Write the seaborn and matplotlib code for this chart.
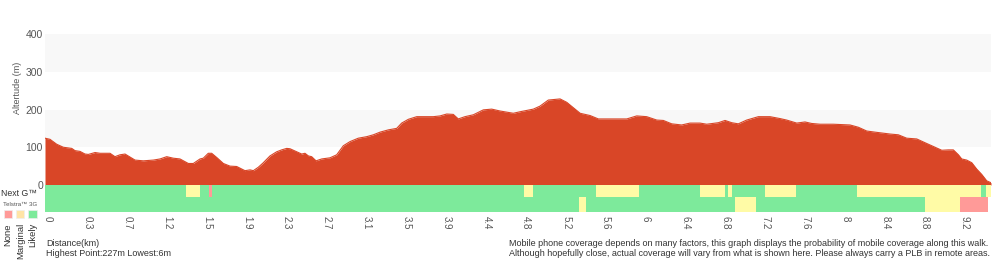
import numpy as np
import pandas as pd
import matplotlib
matplotlib.use("Agg")
import matplotlib.pyplot as plt
import seaborn as sns

# ---------------- data ----------------
dist_km = [0.000, 0.050, 0.117, 0.184, 0.268, 0.301, 0.351, 0.401, 0.435, 0.502,
           0.552, 0.652, 0.702, 0.752, 0.803, 0.903, 0.986, 1.087, 1.154, 1.221,
           1.287, 1.354, 1.438, 1.488, 1.555, 1.588, 1.638, 1.672, 1.722, 1.789,
           1.856, 1.923, 2.006, 2.057, 2.090, 2.140, 2.190, 2.257, 2.324, 2.374,
           2.425, 2.458, 2.525, 2.575, 2.608, 2.642, 2.675, 2.719, 2.776, 2.859,
           2.926, 2.993, 3.060, 3.143, 3.227, 3.294, 3.361, 3.444, 3.528, 3.578,
           3.645, 3.729, 3.896, 3.963, 4.030, 4.096, 4.146, 4.213, 4.297, 4.397,
           4.481, 4.565, 4.698, 4.765, 4.899, 4.966, 5.049, 5.167, 5.234, 5.368,
           5.468, 5.551, 5.836, 5.936, 6.036, 6.137, 6.203, 6.287, 6.387, 6.471,
           6.571, 6.638, 6.755, 6.822, 6.889, 6.955, 7.039, 7.156, 7.273, 7.373,
           7.440, 7.541, 7.624, 7.691, 7.775, 7.908, 8.076, 8.159, 8.243, 8.327,
           8.477, 8.560, 8.644, 8.745, 8.828, 8.912, 8.996, 9.062, 9.112, 9.163,
           9.196, 9.246, 9.297, 9.347, 9.397, 9.447, 9.490]
elev_m = [124, 121, 108, 100, 97, 91, 89, 82, 81, 86,
          84, 84, 75, 80, 82, 66, 64, 66, 69, 75,
          71, 69, 57, 57, 69, 71, 84, 84, 73, 57,
          50, 49, 38, 40, 38, 47, 59, 77, 88, 93,
          97, 96, 88, 82, 84, 77, 75, 64, 69, 72,
          80, 104, 115, 124, 128, 133, 140, 146, 150, 164,
          174, 181, 181, 183, 188, 187, 175, 181, 186, 199,
          201, 196, 190, 194, 201, 209, 225, 228, 219, 190,
          184, 175, 175, 183, 181, 172, 171, 162, 159, 164,
          164, 161, 165, 171, 165, 162, 172, 181, 181, 176,
          172, 164, 167, 163, 161, 161, 159, 153, 143, 140,
          135, 133, 124, 122, 112, 102, 92, 93, 93, 80,
          69, 66, 59, 42, 28, 11, 6]

total_km = 9.49

# coverage segments: start km, end km, level
nextg_start = [0.000, 1.412, 1.555, 1.645, 1.675, 4.805, 4.896, 5.528, 5.959, 6.571,
               6.822, 6.852, 6.892, 7.223, 7.534, 8.146, 9.390, 9.440]
nextg_end = [1.412, 1.555, 1.645, 1.675, 4.805, 4.896, 5.528, 5.959, 6.571, 6.822,
             6.852, 6.892, 7.223, 7.534, 8.146, 9.390, 9.440, 9.490]
nextg_level = ["Likely", "Marginal", "Likely", "None", "Likely", "Marginal", "Likely",
               "Marginal", "Likely", "Marginal", "Likely", "Marginal", "Likely",
               "Marginal", "Likely", "Marginal", "Likely", "Marginal"]

g3_start = [0.000, 5.357, 5.427, 6.922, 7.133, 8.828, 9.179]
g3_end = [5.357, 5.427, 6.922, 7.133, 8.828, 9.179, 9.460]
g3_level = ["Likely", "Marginal", "Likely", "Marginal", "Likely", "Marginal", "None"]

tick_labels = ["0", "0.3", "0.7", "1.2", "1.5", "1.9", "2.3", "2.7", "3.1", "3.5",
               "3.9", "4.4", "4.8", "5.2", "5.6", "6", "6.4", "6.8", "7.2", "7.6",
               "8", "8.4", "8.8", "9.2"]
y_ticks = [0, 100, 200, 300, 400]
legend_levels = ["None", "Marginal", "Likely"]

# ---------------- style ----------------
sns.set_theme(style="white")
plt.rcParams["font.family"] = ["Liberation Sans", "DejaVu Sans"]

RED = "#D94627"
cov_colors = {"None": "#FF9A98", "Marginal": "#FFFBA6", "Likely": "#7DEA9B"}
leg_colors = {"None": "#FF9A98", "Marginal": "#FFE4A6", "Likely": "#7DEA9B"}
GRAY_TXT = "#555555"
DARK_TXT = "#333333"

fig = plt.figure(figsize=(10, 2.6), dpi=100)
W, H = 1000.0, 260.0
left, right = 45 / W, 991 / W
ax_e = fig.add_axes([left, 1 - 185 / H, right - left, (185 - 34) / H])
ax_c = fig.add_axes([left, 1 - 212 / H, right - left, (212 - 185) / H])

# elevation
df = pd.DataFrame({"km": dist_km, "m": elev_m})
ax_e.axhspan(100, 200, color="#F8F8F8", zorder=0, lw=0)
ax_e.axhspan(300, 400, color="#F8F8F8", zorder=0, lw=0)
ax_e.fill_between(df["km"], 0, df["m"], color=RED, lw=0, zorder=2)
sns.lineplot(data=df, x="km", y="m", ax=ax_e, color=RED, lw=0.8, zorder=3)
ax_e.set_xlim(0, total_km)
ax_e.set_ylim(0, 400)
ax_e.set_yticks(y_ticks)
ax_e.set_yticklabels([str(v) for v in y_ticks], fontsize=7.5, color=GRAY_TXT)
ax_e.tick_params(axis="y", length=0, pad=1.5)
ax_e.set_xticks([])
ax_e.set_xlabel("")
ax_e.set_ylabel("")
for s in ax_e.spines.values():
    s.set_visible(False)
fig.text(17 / W, 1 - 88 / H, "Altertude (m)", rotation=90, fontsize=6.5,
         color=GRAY_TXT, ha="center", va="center")

# coverage rows
for st, en, lv in zip(nextg_start, nextg_end, nextg_level):
    ax_c.broken_barh([(st, en - st)], (15, 12), facecolors=cov_colors[lv], lw=0)
for st, en, lv in zip(g3_start, g3_end, g3_level):
    ax_c.broken_barh([(st, en - st)], (0, 15), facecolors=cov_colors[lv], lw=0)
ax_c.set_xlim(0, total_km)
ax_c.set_ylim(0, 27)
ax_c.set_yticks([])
step_px = 39.88
tick_pos = [(2.7 + step_px * i) / 946 * total_km for i in range(len(tick_labels))]
ax_c.set_xticks(tick_pos)
ax_c.set_xticklabels(tick_labels, rotation=-90, fontsize=7, color=GRAY_TXT)
ax_c.tick_params(axis="x", length=0, pad=3)
for s in ax_c.spines.values():
    s.set_visible(False)

# left labels
fig.text(1 / W, 1 - 193 / H, "Next G™", fontsize=6.3, color=DARK_TXT, va="center", ha="left")
fig.text(3 / W, 1 - 204 / H, "Telstra™ 3G", fontsize=4.4, color=GRAY_TXT, va="center", ha="left")
for i, lv in enumerate(legend_levels):
    x0 = 3.5 + 12.4 * i
    fig.patches.append(plt.Rectangle((x0 / W, 1 - 218 / H), 8.5 / W, 8.5 / H,
                                     transform=fig.transFigure, facecolor=leg_colors[lv],
                                     edgecolor="#eeeeee", lw=0.5))
    fig.text((x0 + 4.5) / W, 1 - 223 / H, lv, rotation=90, fontsize=6.8, color=DARK_TXT,
             ha="center", va="top")

# bottom texts
fig.text(46 / W, 1 - 243 / H, "Distance(km)", fontsize=6.5, color=DARK_TXT, va="center")
fig.text(46 / W, 1 - 253 / H, "Highest Point:227m Lowest:6m", fontsize=6.5, color=DARK_TXT, va="center")
fig.text(509 / W, 1 - 243 / H,
         "Mobile phone coverage depends on many factors, this graph displays the probability of mobile coverage along this walk.",
         fontsize=6.5, color=DARK_TXT, va="center")
fig.text(509 / W, 1 - 253 / H,
         "Although hopefully close, actual coverage will vary from what is shown here. Please always carry a PLB in remote areas.",
         fontsize=6.5, color=DARK_TXT, va="center")

fig.savefig("out.png", dpi=100)
